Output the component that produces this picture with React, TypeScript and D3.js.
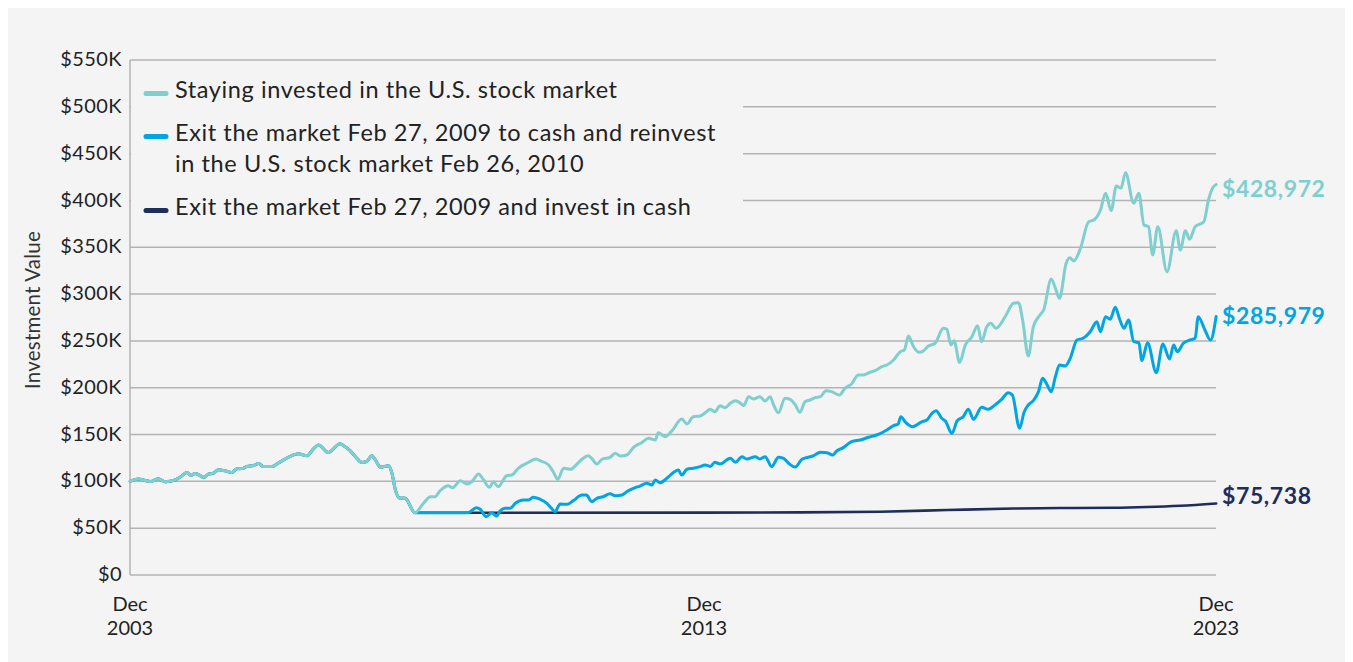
import React from "react";
import * as d3 from "d3";

// ---- Data (values in $K, x in decimal years) ----
// Shared path of all three strategies until the Feb 27, 2009 exit
const marketToFeb2009: [number, number][] = [
  [2003.92, 100], [2004.06, 102.5], [2004.27, 99.9], [2004.41, 102.8], [2004.53, 99.5],
  [2004.7, 101.5], [2004.79, 104.5], [2004.91, 109.5], [2004.98, 106.3], [2005.05, 108.5],
  [2005.21, 104.3], [2005.28, 107.7], [2005.37, 108.8], [2005.46, 112.4], [2005.57, 111.3],
  [2005.69, 109.5], [2005.78, 113.4], [2005.87, 113.7], [2005.95, 115.9], [2006.07, 117],
  [2006.16, 119.1], [2006.24, 115.9], [2006.39, 115.9], [2006.5, 119.5], [2006.68, 125.9],
  [2006.85, 129.5], [2007.0, 127.3], [2007.11, 134.5], [2007.2, 138.8], [2007.37, 130.9],
  [2007.58, 140.2], [2007.64, 138], [2007.75, 133], [2007.84, 126.6], [2007.96, 120.2],
  [2008.04, 121.2], [2008.13, 127.3], [2008.19, 123], [2008.28, 115.2], [2008.42, 116.6],
  [2008.48, 108.8], [2008.54, 91], [2008.62, 82.1], [2008.71, 82.1], [2008.88, 66.5],
];

// Staying invested in the U.S. stock market (after the exit date)
const stayInvested: [number, number][] = [
  [2009.03, 76.6], [2009.15, 83.6], [2009.23, 83.6], [2009.32, 90], [2009.46, 95.4],
  [2009.54, 93.2], [2009.67, 100.7], [2009.79, 97.2], [2009.87, 99.6], [2009.99, 107.9],
  [2010.07, 102.2], [2010.18, 93.7], [2010.25, 99.6], [2010.33, 94.3], [2010.48, 106],
  [2010.57, 106.8], [2010.68, 114], [2010.86, 120.4], [2010.99, 123.9], [2011.06, 122.1],
  [2011.21, 117.5], [2011.29, 110.3], [2011.37, 102.2], [2011.47, 114], [2011.59, 112.9],
  [2011.7, 118.2], [2011.79, 123.6], [2011.9, 127.4], [2011.96, 124.6], [2012.05, 118.5],
  [2012.14, 123.6], [2012.28, 125.7], [2012.37, 130], [2012.46, 127.1], [2012.57, 128.2],
  [2012.69, 136.4], [2012.83, 141.3], [2012.95, 146], [2013.07, 144.2], [2013.12, 152],
  [2013.24, 147.7], [2013.36, 154.1], [2013.53, 166.6], [2013.62, 161.3], [2013.73, 169.1],
  [2013.85, 169.8], [2013.94, 173.3], [2014.04, 177], [2014.13, 174.4], [2014.23, 180.8],
  [2014.33, 178.7], [2014.43, 183.4], [2014.53, 186.2], [2014.62, 184], [2014.69, 180.8],
  [2014.79, 190.4], [2014.88, 188], [2015.01, 190.4], [2015.11, 185.8], [2015.21, 190.4],
  [2015.27, 182.6], [2015.37, 173.3], [2015.5, 188.7], [2015.6, 187.6], [2015.7, 181.6],
  [2015.79, 173.8], [2015.89, 185.1], [2015.99, 186.9], [2016.09, 189.4], [2016.19, 190.4],
  [2016.3, 196.8], [2016.41, 195.8], [2016.56, 192.2], [2016.67, 199.4], [2016.8, 204],
  [2016.93, 213.6], [2017.03, 213.6], [2017.16, 216.5], [2017.29, 219], [2017.39, 222.5],
  [2017.49, 224.3], [2017.62, 229.6], [2017.75, 238.5], [2017.83, 240.3], [2017.91, 255.3],
  [2018.01, 243.8], [2018.12, 237.8], [2018.2, 239.2], [2018.3, 244.6], [2018.43, 247.5],
  [2018.59, 263.5], [2018.66, 262.4], [2018.74, 245.6], [2018.8, 250.2], [2018.91, 227],
  [2019.02, 245.6], [2019.15, 254.5], [2019.26, 266.3], [2019.34, 249.2], [2019.44, 265.2],
  [2019.52, 268.8], [2019.62, 263.5], [2019.8, 275.9], [2019.96, 290.2], [2020.06, 290.8],
  [2020.14, 272.3], [2020.25, 233.9], [2020.35, 265.2], [2020.48, 277.7], [2020.55, 283],
  [2020.7, 316.1], [2020.78, 306.2], [2020.86, 295.5], [2020.99, 332.9], [2021.06, 338.9],
  [2021.14, 335.4], [2021.27, 348.9], [2021.43, 377.3], [2021.53, 379.1], [2021.66, 389.8],
  [2021.76, 407.7], [2021.87, 389.1], [2021.97, 415.5], [2022.06, 413], [2022.15, 429.7],
  [2022.31, 397], [2022.41, 407.7], [2022.51, 373.8], [2022.6, 372], [2022.68, 341.8],
  [2022.78, 372], [2022.96, 323.9], [2023.14, 367.7], [2023.22, 347.1], [2023.32, 367.7],
  [2023.4, 358.5], [2023.51, 372], [2023.68, 377.3], [2023.77, 400.5], [2023.86, 414.1],
  [2023.92, 417],
];

// Exit Feb 27, 2009 to cash, reinvest Feb 26, 2010
const exitAndReinvest: [number, number][] = [
  [2009.32, 66.5], [2009.81, 66.6], [2009.95, 71.9], [2010.02, 70.2], [2010.12, 62.3],
  [2010.22, 66.5], [2010.3, 63], [2010.37, 68.7], [2010.45, 71.2], [2010.54, 71.2],
  [2010.63, 76.6], [2010.77, 80.1], [2010.86, 80.1], [2010.94, 83], [2011.06, 80.9],
  [2011.18, 76.6], [2011.26, 71.2], [2011.32, 67.6], [2011.41, 75.8], [2011.53, 75.5],
  [2011.64, 79.4], [2011.79, 85.4], [2011.87, 85.4], [2011.96, 78.3], [2012.05, 81.9],
  [2012.16, 83.6], [2012.28, 86.8], [2012.37, 84.7], [2012.49, 85.4], [2012.57, 89],
  [2012.69, 92.6], [2012.8, 95], [2012.92, 97.9], [2013.01, 96.1], [2013.07, 101.5],
  [2013.15, 98.6], [2013.27, 103.3], [2013.39, 109.7], [2013.47, 112.1], [2013.53, 106.8],
  [2013.62, 112.9], [2013.73, 114], [2013.85, 115.7], [2013.94, 117.5], [2014.04, 116],
  [2014.13, 120.4], [2014.23, 118.5], [2014.43, 124.6], [2014.53, 120.4], [2014.66, 126.3],
  [2014.75, 123.9], [2014.92, 126.3], [2015.01, 123.9], [2015.11, 126.3], [2015.24, 115.7],
  [2015.37, 125.7], [2015.47, 124.6], [2015.57, 119.3], [2015.7, 115.3], [2015.83, 123.6],
  [2016.05, 127.1], [2016.19, 131], [2016.32, 130.6], [2016.43, 128.2], [2016.51, 132.4],
  [2016.64, 136], [2016.8, 142.4], [2016.97, 144.2], [2017.13, 147.1], [2017.29, 149.5],
  [2017.49, 154.9], [2017.62, 159.5], [2017.71, 161.3], [2017.76, 169.1], [2017.86, 162.7],
  [2017.99, 158.4], [2018.17, 163.5], [2018.27, 165.5], [2018.37, 172.7], [2018.45, 175.5],
  [2018.56, 167.4], [2018.63, 164.5], [2018.76, 151.3], [2018.86, 164.5], [2018.98, 169.1],
  [2019.08, 177], [2019.18, 166.3], [2019.34, 179.1], [2019.47, 177], [2019.6, 181.6],
  [2019.73, 187.6], [2019.86, 194.7], [2019.94, 192.2], [2020.08, 156.7], [2020.17, 174],
  [2020.25, 181.6], [2020.35, 186.2], [2020.45, 195.8], [2020.53, 210.1], [2020.61, 204],
  [2020.7, 195.8], [2020.78, 211.8], [2020.86, 224.3], [2020.97, 223.2], [2021.07, 231.4],
  [2021.2, 251], [2021.32, 252.8], [2021.46, 259.8], [2021.59, 270.5], [2021.66, 259.8],
  [2021.76, 275.9], [2021.85, 273.1], [2021.95, 285.9], [2022.04, 272.3], [2022.12, 263.5],
  [2022.21, 272.3], [2022.31, 249.2], [2022.41, 248.1], [2022.47, 228.9], [2022.58, 248.1],
  [2022.75, 216.1], [2022.88, 246.7], [2023.01, 230.7], [2023.09, 245.6], [2023.16, 238.5],
  [2023.28, 247.5], [2023.41, 251], [2023.51, 252.8], [2023.57, 275.9], [2023.7, 261.7],
  [2023.81, 251], [2023.92, 276],
];

// Exit Feb 27, 2009 and invest in cash
const exitToCash: [number, number][] = [
  [2010.37, 66.5], [2013.92, 66.6], [2015.79, 66.9], [2017.36, 67.6], [2018.67, 69.4],
  [2019.96, 71.0], [2020.87, 71.5], [2021.91, 71.8], [2022.57, 72.6], [2023.22, 74.0],
  [2023.92, 76.4],
];

const seriesNames = [
  "Staying invested in the U.S. stock market",
  "Exit the market Feb 27, 2009 to cash and reinvest|in the U.S. stock market Feb 26, 2010",
  "Exit the market Feb 27, 2009 and invest in cash",
];
const endValueLabels = ["$428,972", "$285,979", "$75,738"];
const seriesColors = ["#7fcfcf", "#00a6e2", "#1d2d5c"];

const yTickValues = [0, 50, 100, 150, 200, 250, 300, 350, 400, 450, 500, 550];
const xTickYears = [2003.917, 2013.917, 2023.917];
const xTickLabels = [["Dec", "2003"], ["Dec", "2013"], ["Dec", "2023"]];

// ---- Layout ----
const W = 1353;
const H = 662;
const PL = 130;
const PR = 1216;
const PT = 60;
const PB = 575;
const FONT = "Lato, 'Open Sans', sans-serif";

export default function App() {
  const x = d3.scaleLinear().domain(xTickYears).range([PL, 704, PR]);
  const y = d3.scaleLinear().domain([0, 550]).range([PB, PT]);
  const line = d3
    .line<[number, number]>()
    .x((d) => x(d[0]))
    .y((d) => y(d[1]))
    .curve(d3.curveMonotoneX);

  const stay = [...marketToFeb2009, ...stayInvested];
  const reinv = [...marketToFeb2009, ...exitAndReinvest];
  const cash = [...marketToFeb2009, ...exitToCash];
  const series = [stay, reinv, cash];
  const labelDy = [7, 1.5, -5];
  const widths = [3, 3, 2.6];

  const legendY = [92, 135, 209];

  return (
    <>
      <style>{`body{margin:0;overflow:hidden}`}</style>
      <svg width={W} height={H} style={{ display: "block", fontFamily: FONT }}>
        <rect x={0} y={0} width={W} height={H} fill="#ffffff" />
        <rect x={8} y={8} width={W - 16} height={H - 8} fill="#f4f4f4" />

        {yTickValues.map((v) => (
          <line key={"g" + v} x1={PL} x2={PR} y1={y(v)} y2={y(v)} stroke="#b3b3b3" strokeWidth={1.5} />
        ))}
        <line x1={PL} x2={PL} y1={y(550)} y2={y(0)} stroke="#b3b3b3" strokeWidth={1.5} />

        {/* legend box hides the grid */}
        <rect x={PL + 1} y={65} width={612} height={160} fill="#f4f4f4" />
        {seriesNames.map((name, i) => {
          const lines = name.split("|");
          return (
            <g key={"lg" + i}>
              <line
                x1={146}
                x2={166}
                y1={legendY[i] + 1.5}
                y2={legendY[i] + 1.5}
                stroke={seriesColors[i]}
                strokeWidth={5}
                strokeLinecap="round"
              />
              {lines.map((t, j) => (
                <text
                  key={j}
                  x={175}
                  y={legendY[i] + j * 31}
                  dominantBaseline="middle"
                  fontSize={23.5}
                  letterSpacing={0.6}
                  fill="#222"
                >
                  {t}
                </text>
              ))}
            </g>
          );
        })}

        {[2, 1, 0].map((i) => (
          <path
            key={"s" + i}
            d={line(series[i]) || ""}
            fill="none"
            stroke={seriesColors[i]}
            strokeWidth={widths[i]}
            strokeLinejoin="round"
            strokeLinecap="round"
          />
        ))}

        {series.map((s, i) => {
          const last = s[s.length - 1];
          return (
            <text
              key={"e" + i}
              x={PR + 6}
              y={y(last[1]) + labelDy[i]}
              dominantBaseline="middle"
              fontSize={23}
              fontWeight={700}
              fill={seriesColors[i]}
              letterSpacing={0.6}
            >
              {endValueLabels[i]}
            </text>
          );
        })}

        {yTickValues.map((v) => (
          <text
            key={"yt" + v}
            x={122}
            y={y(v) + 1}
            textAnchor="end"
            dominantBaseline="middle"
            fontSize={20}
            letterSpacing={0.4}
            fill="#222"
          >
            {v === 0 ? "$0" : `$${v}K`}
          </text>
        ))}

        {xTickYears.map((yr, i) => (
          <text key={"xt" + i} x={x(yr)} textAnchor="middle" fontSize={20} fill="#222">
            <tspan x={x(yr)} y={611}>{xTickLabels[i][0]}</tspan>
            <tspan x={x(yr)} y={635}>{xTickLabels[i][1]}</tspan>
          </text>
        ))}

        <text
          transform={`translate(40, 310) rotate(-90)`}
          textAnchor="middle"
          fontSize={20.5}
          letterSpacing={0.2}
          fill="#333"
        >
          Investment Value
        </text>
      </svg>
    </>
  );
}
